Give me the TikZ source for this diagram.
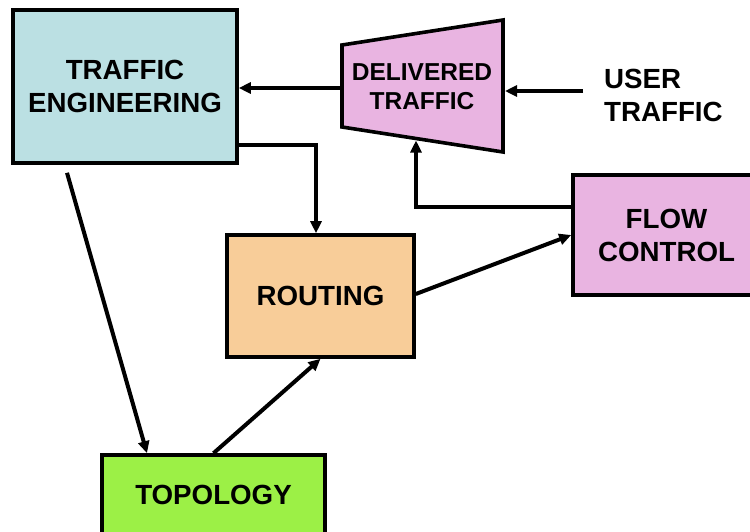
\documentclass[tikz,border=0pt]{standalone}
\usepackage{fontspec}
\setmainfont{Liberation Sans}
\usetikzlibrary{arrows.meta}
\definecolor{teblue}{RGB}{187,224,227}
\definecolor{dpink}{RGB}{233,180,225}
\definecolor{rorange}{RGB}{248,205,153}
\definecolor{tgreen}{RGB}{156,240,70}
\begin{document}
\begin{tikzpicture}[x=1pt,y=-1pt,
  lbl/.style={font=\fontsize{27.7}{33}\selectfont\bfseries, align=center},
  box/.style={lbl, draw=black, line width=3.6pt, rectangle, inner sep=0pt},
  arr/.style={line width=4pt, -{Triangle[length=12pt,width=11pt]}}]
\clip (0,0) rectangle (750,531);

% blocks
\node[box, fill=teblue, minimum width=224pt, minimum height=153pt] (te) at (125,86.5) {TRAFFIC\\ENGINEERING};
\node[box, fill=rorange, minimum width=187pt, minimum height=122pt] (ro) at (320.5,296) {ROUTING};
\node[box, fill=dpink, minimum width=187pt, minimum height=120pt] (fc) at (666.5,235) {FLOW\\CONTROL};
\node[box, fill=tgreen, minimum width=223pt, minimum height=80pt] (to) at (213.5,495) {TOPOLOGY};

% delivered traffic block (trapezoid)
\draw[fill=dpink, line width=3.6pt, line join=miter] (342,45) -- (503,20) -- (503,152) -- (342,127) -- cycle;
\node[lbl, font=\fontsize{24.5}{29}\selectfont\bfseries] (dt) at (422,87) {DELIVERED\\TRAFFIC};
\coordinate (dtl) at (340,88);
\coordinate (dtr) at (505,91);
\coordinate (dtb) at (416,140.5);

% external input
\node[lbl, align=left, anchor=west, inner sep=0pt] (ut) at (604,95) {USER\\TRAFFIC};
\coordinate (uts) at (583,91);

% connectors
\draw[arr] (uts) -- (dtr);
\draw[arr] (dtl) -- (te.east |- dtl);
\draw[arr] ([yshift=28pt]fc.west) -| (dtb);
\draw[arr] ([yshift=-58.5pt]te.east) -| ([xshift=-4.5pt]ro.north);
\draw[arr] ([yshift=2pt]ro.east) -- (fc.west);
\draw[arr] ([xshift=-58pt,yshift=-8pt]te.south) -- ([xshift=-66.5pt]to.north);
\draw[arr] (to.north) -- (ro.south);
\end{tikzpicture}
\end{document}
